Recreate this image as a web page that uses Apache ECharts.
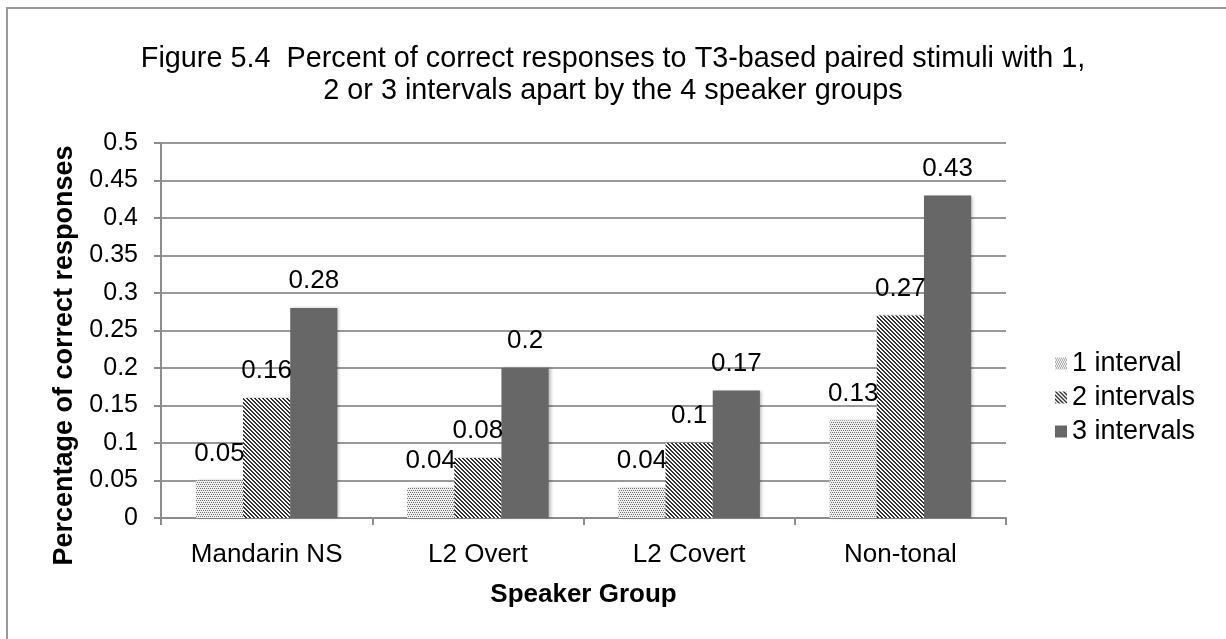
<!DOCTYPE html>
<html>
  <head>
    <meta charset="utf-8" />
    <title>Figure 5.4</title>
    <script src="https://cdn.jsdelivr.net/npm/echarts@6/dist/echarts.min.js"></script>
    <style>
      html, body { margin: 0; padding: 0; background: #fff; }
    </style>
  </head>
  <body>
    <div id="main" style="width: 1226px; height: 639px;"></div>

    <script type="text/javascript">
      // Data
      const groups = ['Mandarin NS', 'L2 Overt', 'L2 Covert', 'Non-tonal'];
      const seriesNames = ['1 interval', '2 intervals', '3 intervals'];
      const oneInterval = [0.05, 0.04, 0.04, 0.13];
      const twoIntervals = [0.16, 0.08, 0.1, 0.27];
      const threeIntervals = [0.28, 0.2, 0.17, 0.43];

      const font = '"Liberation Sans", Arial, sans-serif';

      // stipple pattern for 1 interval
      function dotPattern() {
        const c = document.createElement('canvas');
        c.width = 4; c.height = 4;
        const ctx = c.getContext('2d');
        ctx.fillStyle = '#efefef';
        ctx.fillRect(0, 0, 4, 4);
        ctx.fillStyle = '#737373';
        ctx.fillRect(0, 0, 1, 1);
        ctx.fillRect(2, 0, 1, 1);
        ctx.fillRect(1, 2, 1, 1);
        ctx.fillRect(3, 2, 1, 1);
        return c;
      }

      // diagonal stripes for 2 intervals
      function stripePattern() {
        const c = document.createElement('canvas');
        c.width = 4; c.height = 4;
        const ctx = c.getContext('2d');
        ctx.fillStyle = '#ffffff';
        ctx.fillRect(0, 0, 4, 4);
        ctx.fillStyle = '#333333';
        for (let y = 0; y < 4; y++) {
          for (let x = 0; x < 4; x++) {
            const d = ((x - y) % 4 + 4) % 4;
            if (d === 0 || d === 1) ctx.fillRect(x, y, 1, 1);
          }
        }
        return c;
      }

      const fills = [
        { image: dotPattern(), repeat: 'repeat' },
        { image: stripePattern(), repeat: 'repeat' },
        '#676767'
      ];
      const values = [oneInterval, twoIntervals, threeIntervals];

      var myChart = echarts.init(document.getElementById('main'));

      const option = {
        animation: false,
        backgroundColor: '#fff',
        textStyle: { fontFamily: font, color: '#000' },
        graphic: [
          {
            type: 'rect',
            shape: { x: 7, y: 8, width: 1400, height: 800 },
            style: { fill: 'none', stroke: '#999', lineWidth: 2 },
            silent: true
          }
        ],
        title: {
          text: 'Figure 5.4  Percent of correct responses to T3-based paired stimuli with 1,\n2 or 3 intervals apart by the 4 speaker groups',
          left: 'center',
          top: 43,
          padding: 0,
          textStyle: {
            fontFamily: font,
            fontSize: 28.8,
            fontWeight: 'normal',
            color: '#000',
            lineHeight: 32
          }
        },
        legend: {
          orient: 'vertical',
          left: 1055,
          top: 350,
          padding: 0,
          itemGap: 7,
          itemWidth: 12,
          itemHeight: 12,
          icon: 'rect',
          textStyle: { fontFamily: font, fontSize: 27, lineHeight: 27, color: '#000', padding: 0 },
          data: seriesNames
        },
        grid: { left: 161, right: 220, top: 143, bottom: 121, containLabel: false },
        xAxis: {
          type: 'category',
          data: groups,
          name: 'Speaker Group',
          nameLocation: 'middle',
          nameGap: 64,
          nameTextStyle: { fontFamily: font, fontSize: 26, fontWeight: 'bold', color: '#000' },
          axisLine: { lineStyle: { color: '#8c8c8c', width: 2 } },
          axisTick: { show: true, length: 7, alignWithLabel: false, lineStyle: { color: '#8c8c8c', width: 2 } },
          axisLabel: { fontFamily: font, fontSize: 26, color: '#000', margin: 24 },
          splitLine: { show: false }
        },
        yAxis: {
          type: 'value',
          min: 0,
          max: 0.5,
          interval: 0.05,
          name: 'Percentage of correct responses',
          nameLocation: 'middle',
          nameGap: 62,
          nameTextStyle: {
            fontFamily: font,
            fontSize: 27,
            fontWeight: 'bold',
            color: '#000',
            padding: [0, 50, 0, 0]
          },
          axisLine: { show: true, lineStyle: { color: '#8c8c8c', width: 2 } },
          axisTick: { show: true, length: 7, lineStyle: { color: '#8c8c8c', width: 2 } },
          axisLabel: {
            fontFamily: font,
            fontSize: 25,
            color: '#000',
            margin: 23,
            formatter: function (v) { return String(Math.round(v * 100) / 100); }
          },
          splitLine: { show: true, lineStyle: { color: '#999', width: 2 } }
        },
        series: seriesNames.map(function (name, i) {
          return {
            name: name,
            type: 'bar',
            data: values[i],
            barGap: '0%',
            barCategoryGap: '33%',
            itemStyle: {
              color: fills[i],
              shadowColor: 'rgba(0,0,0,0.25)',
              shadowBlur: 3,
              shadowOffsetX: 2
            },
            label: {
              show: true,
              position: 'top',
              distance: 14,
              fontFamily: font,
              fontSize: 26,
              color: '#000'
            }
          };
        })
      };

      myChart.setOption(option);
    </script>
  </body>
</html>
